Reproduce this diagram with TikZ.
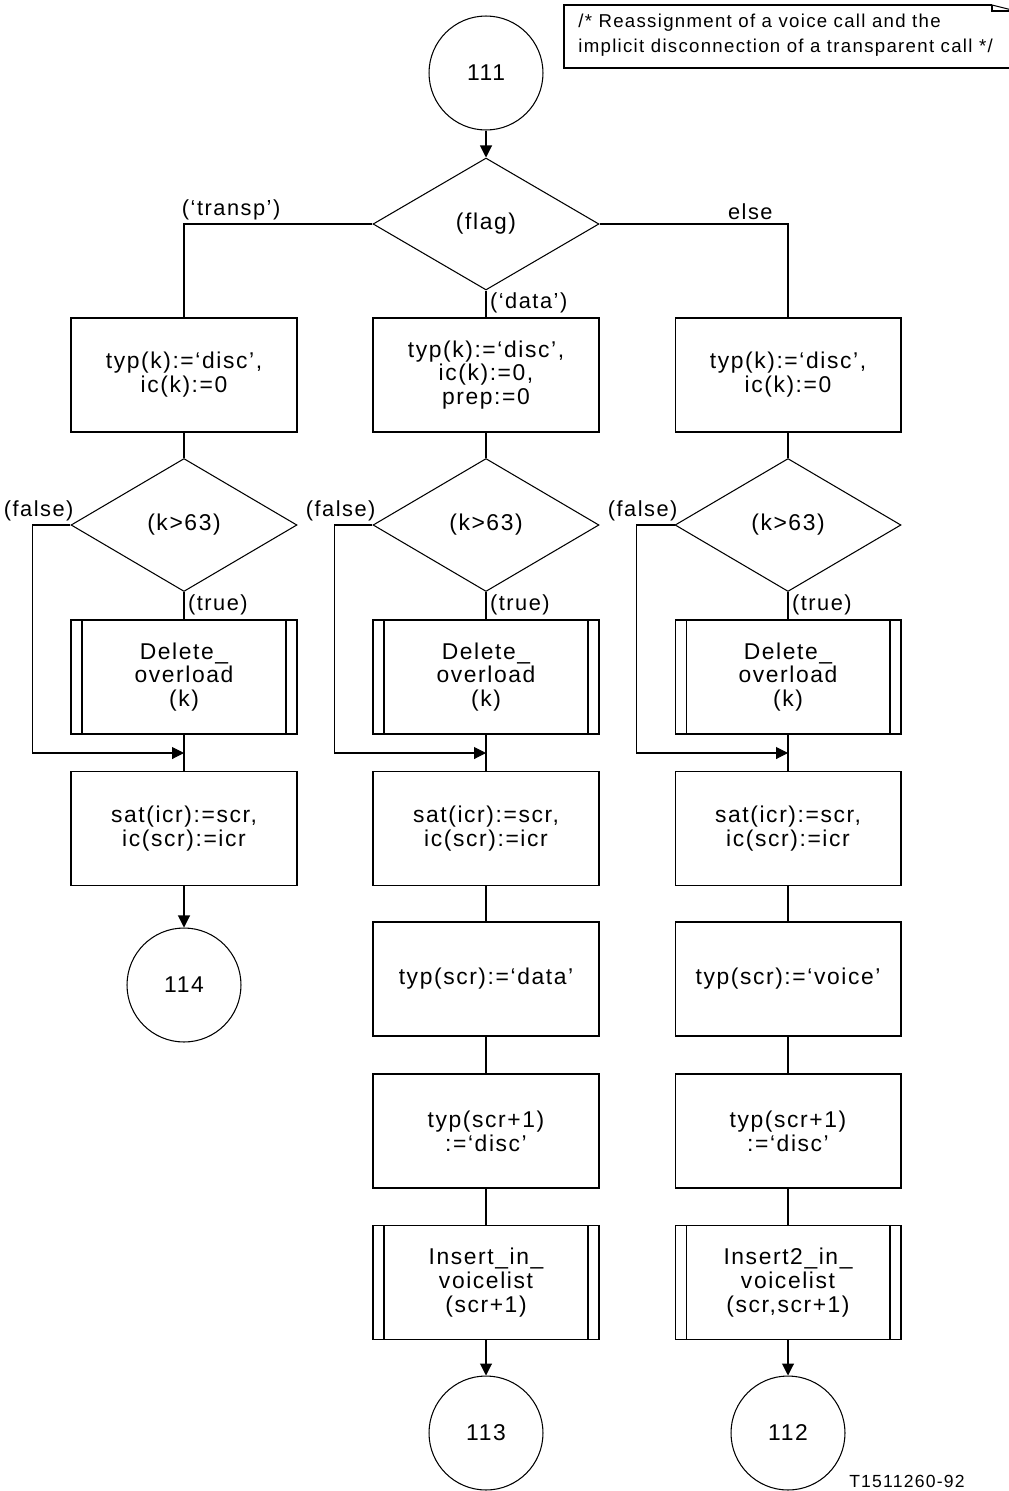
\documentclass[tikz,border=0pt]{standalone}
\usepackage{fontspec}
\newfontfamily\chartfont[LetterSpace=7]{Liberation Sans}
\usepackage{tikz}
\usetikzlibrary{shapes.geometric, arrows.meta, positioning}
\tikzset{
  proc/.style={rectangle, draw=black, line width=0.6pt,
               minimum width=4.52cm, minimum height=2.28cm,
               inner sep=0pt, align=center,
               font=\chartfont\fontsize{13}{13.6}\selectfont},
  subproc/.style={proc, path picture={
      \draw[line width=0.6pt]
        ([xshift=0.22cm]path picture bounding box.north west) --
        ([xshift=0.22cm]path picture bounding box.south west);
      \draw[line width=0.6pt]
        ([xshift=-0.22cm]path picture bounding box.north east) --
        ([xshift=-0.22cm]path picture bounding box.south east);}},
  decide/.style={diamond, draw=black, line width=0.6pt,
                 minimum width=4.52cm, minimum height=2.64cm,
                 inner sep=0pt,
                 font=\chartfont\fontsize{13}{13.6}\selectfont},
  conn/.style={circle, draw=black, line width=0.6pt,
               minimum size=2.28cm, inner sep=0pt,
               font=\chartfont\fontsize{13}{13.6}\selectfont},
  flow/.style={-{Triangle[length=0.24cm, width=0.24cm]}, line width=0.6pt},
  line/.style={line width=0.6pt},
  lbl/.style={inner sep=2pt, font=\chartfont\fontsize{12.4}{13.6}\selectfont},
}

\begin{document}
\begin{tikzpicture}[x=0.02cm, y=-0.02cm]
  \useasboundingbox (0,0) rectangle (1008,1491);

  % comment box, top right
  \draw[line] (992,5) -- (564,5) -- (564,68) -- (1012,68);
  \draw[line] (992,5) -- (992,11) -- (1012,11);
  \draw[line] (992,5) -- (1012,10);
  \node[lbl, anchor=north west, align=left, inner sep=0pt,
        font=\chartfont\fontsize{10.6}{14}\selectfont] (note) at (578,14)
    {/* Reassignment of a voice call and the\\implicit disconnection of a transparent call */};

  % start and first decision
  \node[conn] (c111) at (486,73) {111};
  \node[decide, minimum height=2.64cm] (flag) at (486,224) {(flag)};

  % first row
  \node[proc] (t1) at (184,375) {typ(k):=‘disc’,\\ic(k):=0};
  \node[proc] (t2) at (486,375) {typ(k):=‘disc’,\\ic(k):=0,\\prep:=0};
  \node[proc] (t3) at (788,375) {typ(k):=‘disc’,\\ic(k):=0};

  % k>63 tests
  \node[decide, minimum height=2.66cm] (kd1) at (184,525) {(k>63)};
  \node[decide, minimum height=2.66cm] (kd2) at (486,525) {(k>63)};
  \node[decide, minimum height=2.66cm] (kd3) at (788,525) {(k>63)};

  \node[subproc] (del1) at (184,677) {Delete\_\\overload\\(k)};
  \node[subproc] (del2) at (486,677) {Delete\_\\overload\\(k)};
  \node[subproc] (del3) at (788,677) {Delete\_\\overload\\(k)};

  \coordinate (j1) at (184,753);
  \coordinate (j2) at (486,753);
  \coordinate (j3) at (788,753);

  \node[proc] (sat1) at (184,828.5) {sat(icr):=scr,\\ic(scr):=icr};
  \node[proc] (sat2) at (486,828.5) {sat(icr):=scr,\\ic(scr):=icr};
  \node[proc] (sat3) at (788,828.5) {sat(icr):=scr,\\ic(scr):=icr};

  \node[conn] (c114) at (184,985) {114};

  % data and voice columns
  \node[proc] (ty2) at (486,979) {typ(scr):=‘data’};
  \node[proc] (ty3) at (788,979) {typ(scr):=‘voice’};
  \node[proc] (tz2) at (486,1131) {typ(scr+1)\\:=‘disc’};
  \node[proc] (tz3) at (788,1131) {typ(scr+1)\\:=‘disc’};
  \node[subproc] (ins2) at (486,1282.5) {Insert\_in\_\\voicelist\\(scr+1)};
  \node[subproc] (ins3) at (788,1282.5) {Insert2\_in\_\\voicelist\\(scr,scr+1)};

  \node[conn] (c113) at (486,1433) {113};
  \node[conn] (c112) at (788,1433) {112};

  \node[lbl, inner sep=0pt, font=\chartfont\fontsize{10}{12}\selectfont] (fig) at (907,1481) {T1511260-92};

  % connectors
  \draw[flow] (c111) -- (flag);
  \draw[line] (flag.west) -| node[lbl, pos=0.375, above] {(‘transp’)} (t1.north);
  \draw[line] (flag.east) -| node[lbl, pos=0.4, above] {else} (t3.north);
  \draw[line] (flag.south) -- node[lbl, right, pos=0.45] {(‘data’)} (t2.north);

  \draw[line] (t1) -- (kd1);
  \draw[line] (t2) -- (kd2);
  \draw[line] (t3) -- (kd3);

  \draw[line] (kd1) -- node[lbl, right, pos=0.45] {(true)} (del1);
  \draw[line] (kd2) -- node[lbl, right, pos=0.45] {(true)} (del2);
  \draw[line] (kd3) -- node[lbl, right, pos=0.45] {(true)} (del3);

  \draw[flow] (kd1.west) -- node[lbl, pos=0, anchor=south east, xshift=0.14cm] {(false)} ++(-38,0) |- (j1);
  \draw[flow] (kd2.west) -- node[lbl, pos=0, anchor=south east, xshift=0.14cm] {(false)} ++(-38,0) |- (j2);
  \draw[flow] (kd3.west) -- node[lbl, pos=0, anchor=south east, xshift=0.14cm] {(false)} ++(-38,0) |- (j3);

  \draw[line] (del1) -- (sat1);
  \draw[line] (del2) -- (sat2);
  \draw[line] (del3) -- (sat3);

  \draw[flow] (sat1) -- (c114);

  \draw[line] (sat2) -- (ty2);
  \draw[line] (ty2) -- (tz2);
  \draw[line] (tz2) -- (ins2);
  \draw[flow] (ins2) -- (c113);

  \draw[line] (sat3) -- (ty3);
  \draw[line] (ty3) -- (tz3);
  \draw[line] (tz3) -- (ins3);
  \draw[flow] (ins3) -- (c112);
\end{tikzpicture}
\end{document}
